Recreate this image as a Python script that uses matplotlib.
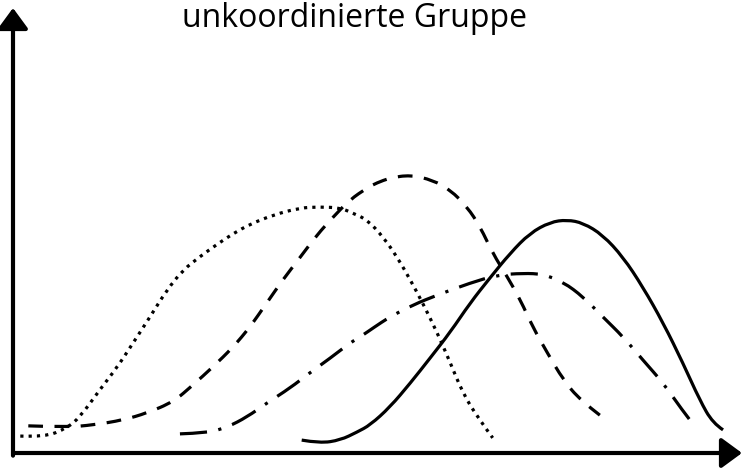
import matplotlib
matplotlib.use("Agg")
import matplotlib.pyplot as plt
from matplotlib.path import Path
from matplotlib.patches import PathPatch

# values, arbitrary units (x: 0-100, y: 0-100)
dotted_x = [1.0, 4.4, 7.4, 9.2, 11.9, 14.3, 16.5, 18.8, 21.1, 23.3, 25.7, 28.0, 30.2, 32.5,
            35.7, 39.4, 42.1, 44.9, 46.6, 48.6, 50.8, 52.7, 54.5, 56.2, 58.2, 60.0, 61.7,
            63.7, 65.8]
dotted_y = [3.8, 3.6, 5.6, 8.1, 14.2, 19.3, 24.8, 30.6, 36.6, 41.1, 44.2, 46.9, 49.3, 51.4,
            53.5, 55.1, 55.3, 55.1, 53.9, 52.4, 48.5, 44.0, 38.9, 33.7, 27.0, 20.2, 13.5,
            8.1, 3.4]

dashed_x = [2.1, 7.4, 11.0, 15.1, 18.4, 22.0, 24.7, 27.4, 30.2, 32.5, 34.8, 37.0, 39.4, 41.7,
            43.9, 46.2, 48.6, 49.9, 51.7, 54.5, 57.6, 60.0, 62.3, 64.1, 65.8, 67.8, 69.6,
            71.3, 73.3, 75.5, 77.8, 80.5]
dashed_y = [6.1, 5.8, 6.3, 7.4, 9.0, 11.5, 15.3, 19.3, 23.8, 28.3, 33.7, 38.9, 44.0, 49.0,
            53.0, 56.9, 59.6, 60.7, 61.8, 62.5, 61.3, 59.1, 55.3, 50.8, 44.9, 39.6, 34.4,
            28.3, 22.5, 16.4, 11.9, 8.5]

dashdot_x = [22.9, 26.6, 29.4, 32.1, 34.8, 38.0, 40.7, 43.5, 46.2, 48.0, 49.4, 51.7, 54.9,
             58.2, 62.7, 66.4, 70.0, 72.7, 75.5, 78.2, 80.9, 83.7, 86.4, 89.2, 91.5, 93.6]
dashdot_y = [4.3, 4.5, 5.8, 8.1, 11.2, 14.6, 18.0, 21.3, 24.7, 26.5, 28.1, 30.6, 33.3,
             35.5, 38.2, 40.0, 40.4, 40.2, 38.4, 35.1, 30.6, 26.1, 20.9, 15.7, 10.3, 5.8]

solid_x = [39.6, 42.1, 44.9, 47.2, 49.0, 51.7, 54.5, 57.2, 60.0, 62.7, 65.4, 68.2, 70.9,
           73.7, 76.0, 78.2, 80.9, 83.7, 86.4, 89.2, 91.9, 94.2, 96.0, 97.4]
solid_y = [2.9, 2.2, 2.9, 4.7, 6.3, 10.3, 15.7, 21.3, 27.2, 33.7, 39.3, 44.9, 49.4,
           51.9, 52.4, 51.7, 49.0, 44.0, 37.3, 29.2, 20.2, 11.9, 6.7, 5.2]

title = "unkoordinierte Gruppe"


def smooth_curve(xs, ys):
    # read points used as quadratic bezier controls, midpoints as anchors
    verts = [(xs[0], ys[0])]
    codes = [Path.MOVETO]
    for i in range(1, len(xs) - 1):
        if i < len(xs) - 2:
            end = ((xs[i] + xs[i + 1]) / 2, (ys[i] + ys[i + 1]) / 2)
        else:
            end = (xs[-1], ys[-1])
        verts += [(xs[i], ys[i]), end]
        codes += [Path.CURVE3, Path.CURVE3]
    return Path(verts, codes)


fig = plt.figure(figsize=(7.42, 4.72), dpi=100)
ax = fig.add_axes([13 / 742, 19 / 472, 729 / 742, 445 / 472])
ax.set_xlim(0, 100)
ax.set_ylim(0, 100)
ax.axis("off")

lw = 2.3
styles = [
    (dotted_x, dotted_y, (0, (1, 1.6))),
    (dashed_x, dashed_y, (0, (4.6, 3.6))),
    (dashdot_x, dashdot_y, (0, (8.5, 3.6, 1, 3.6))),
    (solid_x, solid_y, "-"),
]
for xs, ys, ls in styles:
    ax.add_patch(PathPatch(smooth_curve(xs, ys), fill=False, edgecolor="black",
                           lw=lw, linestyle=ls, capstyle="butt"))

# axes drawn as arrows
arrow = dict(arrowstyle="-|>,head_length=0.45,head_width=0.33", lw=3, color="black",
             shrinkA=0, shrinkB=0, mutation_scale=28)
ax.annotate("", xy=(0, 1), xytext=(0, -0.006), xycoords="axes fraction",
            arrowprops=arrow, annotation_clip=False)
ax.annotate("", xy=(1, 0), xytext=(0, 0), xycoords="axes fraction",
            arrowprops=arrow, annotation_clip=False)

fig.text(355 / 742, 1 - 27 / 472, title, ha="center", va="baseline",
         fontsize=23, family="Open Sans")

fig.savefig("out.png", dpi=100)
